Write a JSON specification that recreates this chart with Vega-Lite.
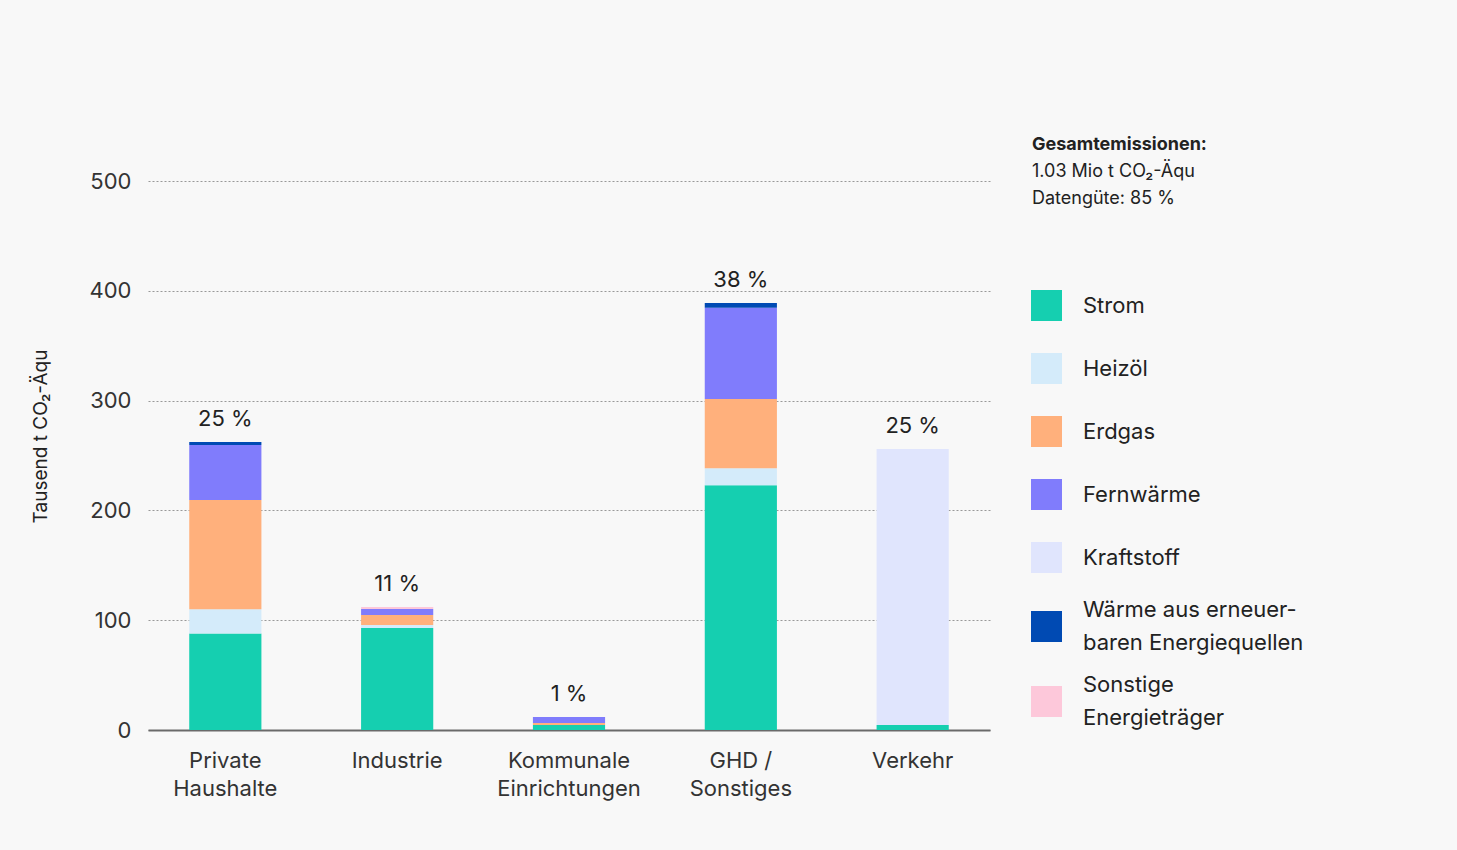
{
  "$schema": "https://vega.github.io/schema/vega-lite/v6.json",
  "autosize": {"type": "none"},
  "width": 842,
  "height": 549,
  "padding": {"left": 148, "top": 181, "right": 467, "bottom": 120},
  "background": "#f8f8f8",
  "datasets": {
    "seg": [
      {"cat": "Private Haushalte", "src": "Strom", "o": 1, "value": 88},
      {"cat": "Private Haushalte", "src": "Heizöl", "o": 2, "value": 22},
      {"cat": "Private Haushalte", "src": "Erdgas", "o": 3, "value": 99.5},
      {"cat": "Private Haushalte", "src": "Fernwärme", "o": 4, "value": 50},
      {"cat": "Private Haushalte", "src": "Wärme aus erneuerbaren Energiequellen", "o": 6, "value": 2.8},
      {"cat": "Industrie", "src": "Strom", "o": 1, "value": 93},
      {"cat": "Industrie", "src": "Heizöl", "o": 2, "value": 2.7},
      {"cat": "Industrie", "src": "Erdgas", "o": 3, "value": 9},
      {"cat": "Industrie", "src": "Fernwärme", "o": 4, "value": 5.5},
      {"cat": "Industrie", "src": "Sonstige Energieträger", "o": 7, "value": 1.8},
      {"cat": "Kommunale Einrichtungen", "src": "Strom", "o": 1, "value": 4.5},
      {"cat": "Kommunale Einrichtungen", "src": "Erdgas", "o": 3, "value": 1.9},
      {"cat": "Kommunale Einrichtungen", "src": "Fernwärme", "o": 4, "value": 5.4},
      {"cat": "GHD / Sonstiges", "src": "Strom", "o": 1, "value": 223},
      {"cat": "GHD / Sonstiges", "src": "Heizöl", "o": 2, "value": 15.5},
      {"cat": "GHD / Sonstiges", "src": "Erdgas", "o": 3, "value": 63},
      {"cat": "GHD / Sonstiges", "src": "Fernwärme", "o": 4, "value": 83},
      {"cat": "GHD / Sonstiges", "src": "Wärme aus erneuerbaren Energiequellen", "o": 6, "value": 4.5},
      {"cat": "Verkehr", "src": "Strom", "o": 1, "value": 4.5},
      {"cat": "Verkehr", "src": "Kraftstoff", "o": 5, "value": 251.5}
    ],
    "pcts": [
      {"cat": "Private Haushalte", "pct": "25 %"},
      {"cat": "Industrie", "pct": "11 %"},
      {"cat": "Kommunale Einrichtungen", "pct": "1 %"},
      {"cat": "GHD / Sonstiges", "pct": "38 %"},
      {"cat": "Verkehr", "pct": "25 %"}
    ]
  },
  "data": {"name": "seg"},
  "title": {
    "text": "Gesamtemissionen:",
    "subtitle": ["1.03 Mio t CO₂-Äqu", "Datengüte: 85 %"],
    "anchor": "start",
    "frame": "group",
    "orient": "top",
    "dx": 884,
    "offset": -38
  },
  "encoding": {
    "x": {
      "field": "cat",
      "type": "nominal",
      "sort": null,
      "scale": {"paddingInner": 0.58, "paddingOuter": 0.24},
      "axis": {
        "title": null,
        "labelAngle": 0,
        "labelExpr": "datum.label == 'GHD / Sonstiges' ? ['GHD /', 'Sonstiges'] : split(datum.label, ' ')",
        "labelFontSize": 22,
        "labelLineHeight": 28,
        "labelColor": "#333333",
        "labelPadding": 20,
        "labelBaseline": "top",
        "ticks": false,
        "domainColor": "#6a6a6a",
        "domainWidth": 2,
        "grid": false
      }
    }
  },
  "layer": [
    {
      "mark": {"type": "bar"},
      "encoding": {
        "y": {
          "field": "value",
          "type": "quantitative",
          "stack": "zero",
          "scale": {"domain": [0, 500], "nice": false},
          "axis": {
            "title": "Tausend t CO₂-Äqu",
            "titleFontSize": 19,
            "titleFontWeight": "normal",
            "titleColor": "#222222",
            "titlePadding": 39,
            "titleY": 255,
            "values": [0, 100, 200, 300, 400, 500],
            "labelFontSize": 22,
            "labelColor": "#333333",
            "labelPadding": 17,
            "ticks": false,
            "domain": false,
            "grid": true,
            "gridDash": [2, 2],
            "gridColor": "#999999",
            "gridWidth": 1
          }
        },
        "color": {
          "field": "src",
          "type": "nominal",
          "scale": {
            "domain": ["Strom", "Heizöl", "Erdgas", "Fernwärme", "Kraftstoff", "Wärme aus erneuerbaren Energiequellen", "Sonstige Energieträger"],
            "range": ["#15cfb0", "#d4ebfa", "#ffb07c", "#807cfc", "#e0e5fd", "#004ab3", "#fdc8da"]
          },
          "legend": {
            "title": null,
            "orient": "none",
            "legendX": 883,
            "legendY": 109,
            "symbolType": "M0,-1.355M-1,-1H1V1H-1ZM0,1.355",
            "symbolSize": 961,
            "symbolStrokeWidth": 0,
            "symbolOpacity": 1,
            "labelFontSize": 22,
            "labelColor": "#222222",
            "labelOffset": 21,
            "labelLimit": 400,
            "rowPadding": 20,
            "labelExpr": "datum.label == 'Wärme aus erneuerbaren Energiequellen' ? ['Wärme aus erneuer-', 'baren Energiequellen'] : datum.label == 'Sonstige Energieträger' ? ['Sonstige', 'Energieträger'] : datum.label",
            "encode": {
              "symbols": {
                "update": {
                  "dy": {"signal": "datum.value == 'Wärme aus erneuerbaren Energiequellen' ? 3 : datum.value == 'Sonstige Energieträger' ? 4 : 0"}
                }
              },
              "labels": {
                "update": {
                  "lineHeight": {"value": 33},
                  "dy": {"signal": "datum.value == 'Wärme aus erneuerbaren Energiequellen' || datum.value == 'Sonstige Energieträger' ? -16.5 : 0"}
                }
              }
            }
          }
        },
        "order": {"field": "o", "type": "quantitative"}
      }
    },
    {
      "transform": [
        {"aggregate": [{"op": "sum", "field": "value", "as": "total"}], "groupby": ["cat"]},
        {"lookup": "cat", "from": {"data": {"name": "pcts"}, "key": "cat", "fields": ["pct"]}}
      ],
      "mark": {"type": "text", "baseline": "middle", "dy": -23, "fontSize": 22, "color": "#222222"},
      "encoding": {
        "y": {"field": "total", "type": "quantitative"},
        "text": {"field": "pct", "type": "nominal"}
      }
    }
  ],
  "config": {
    "font": "Inter",
    "view": {"stroke": null},
    "title": {
      "fontSize": 18,
      "fontWeight": "bold",
      "color": "#222222",
      "subtitleFontSize": 18,
      "subtitleColor": "#222222",
      "subtitleFontWeight": "normal",
      "subtitleLineHeight": 27,
      "subtitlePadding": 9
    }
  }
}
